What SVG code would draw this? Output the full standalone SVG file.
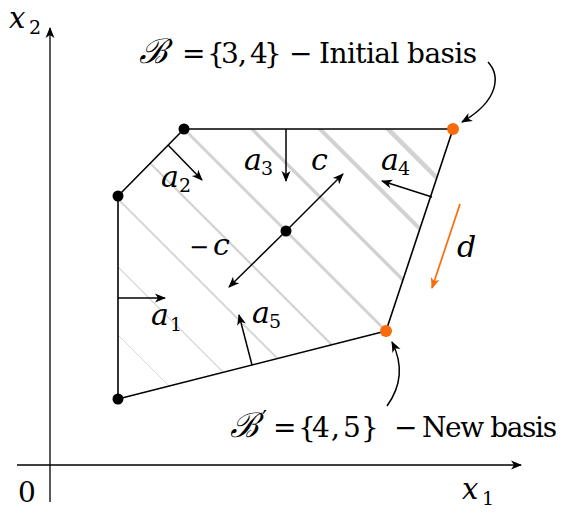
<svg xmlns="http://www.w3.org/2000/svg" width="565" height="517" viewBox="0 0 565 517">
<style>
text{font-family:'DejaVu Serif',serif;fill:#000}
.m{font-style:italic}
.s{font-style:normal}
.edge{fill:none;stroke:#000;stroke-width:1.6;stroke-linejoin:round}
.ax{fill:none;stroke:#000;stroke-width:1.3}
.arr{fill:none;stroke:#000;stroke-width:1.5;marker-end:url(#hk)}
.arro{fill:none;stroke:#f96a0c;stroke-width:1.7;marker-end:url(#ho)}
.h{stroke:#d2d2d2;fill:none}
</style>
<defs>
<marker id="hk" markerUnits="userSpaceOnUse" markerWidth="14" markerHeight="12" viewBox="-12 -6 14 12" refX="0" refY="0" orient="auto">
<path d="M1,0 L-10,-4.5 L-7,0 L-10,4.5 Z" fill="#000"/>
</marker>
<marker id="ho" markerUnits="userSpaceOnUse" markerWidth="14" markerHeight="12" viewBox="-12 -6 14 12" refX="0" refY="0" orient="auto">
<path d="M1,0 L-10,-4.5 L-7,0 L-10,4.5 Z" fill="#f96a0c"/>
</marker>
<clipPath id="poly"><polygon points="184,129 453,129 386,331 118,399 118,196"/></clipPath>
</defs>

<g id="hatch" clip-path="url(#poly)">
<line class="h" x1="0" y1="217" x2="600" y2="817" stroke-width="0.8"/>
<line class="h" x1="0" y1="149" x2="600" y2="749" stroke-width="1.2"/>
<line class="h" x1="0" y1="81" x2="600" y2="681" stroke-width="1.7"/>
<line class="h" x1="0" y1="13" x2="600" y2="613" stroke-width="2.2"/>
<line class="h" x1="0" y1="-55" x2="600" y2="545" stroke-width="2.8"/>
<line class="h" x1="0" y1="-123" x2="600" y2="477" stroke-width="3.4"/>
<line class="h" x1="0" y1="-191" x2="600" y2="409" stroke-width="4"/>
<line class="h" x1="0" y1="-259" x2="600" y2="341" stroke-width="4.6"/>
</g>

<g id="axes">
<line class="ax" x1="50" y1="502" x2="50" y2="28" marker-end="url(#hk)"/>
<line class="ax" x1="17" y1="465" x2="521" y2="465" marker-end="url(#hk)"/>
</g>

<g id="polygon">
<polygon class="edge" points="184,129 453,129 386,331 118,399 118,196"/>
</g>

<g id="connectors">
<line class="arr" x1="118" y1="298" x2="165" y2="298"/>
<line class="arr" x1="168" y1="145" x2="202" y2="180"/>
<line class="arr" x1="286" y1="129" x2="286" y2="181"/>
<line class="arr" x1="432" y1="197" x2="382" y2="181"/>
<line class="arr" x1="252" y1="365" x2="239" y2="315"/>
<line class="arr" x1="286" y1="231" x2="343" y2="174"/>
<line class="arr" x1="286" y1="231" x2="229" y2="287"/>
<line class="arro" x1="460" y1="204" x2="432" y2="288"/>
<path class="arr" d="M488,62 C500,75 500,100 462,122"/>
<path class="arr" d="M387,406 C400,388 404,366 392,342"/>
</g>

<g id="v1"><circle cx="184" cy="129" r="5.5" fill="#000"/></g>
<g id="v2"><circle cx="118" cy="196" r="5.5" fill="#000"/></g>
<g id="v3"><circle cx="118" cy="399" r="5.5" fill="#000"/></g>
<g id="center"><circle cx="286" cy="231" r="5.5" fill="#000"/></g>
<g id="v4"><circle cx="453" cy="129" r="6" fill="#f96a0c"/></g>
<g id="v5"><circle cx="386" cy="331" r="6" fill="#f96a0c"/></g>

<g id="labels">
<text class="m" x="9" y="28" font-size="29">x<tspan class="s" x="29" y="34" font-size="19">2</tspan></text>
<text x="18" y="502" font-size="28">0</text>
<text class="m" x="462" y="499" font-size="29">x<tspan class="s" x="482" y="505" font-size="19">1</tspan></text>
<text class="m" x="151" y="325" font-size="30">a<tspan class="s" x="170" y="331" font-size="19">1</tspan></text>
<text class="m" x="161" y="187" font-size="30">a<tspan class="s" x="179" y="192" font-size="19">2</tspan></text>
<text class="m" x="244" y="170" font-size="30">a<tspan class="s" x="261" y="175" font-size="19">3</tspan></text>
<text class="m" x="381" y="170" font-size="30">a<tspan class="s" x="398" y="175" font-size="19">4</tspan></text>
<text class="m" x="252" y="323" font-size="30">a<tspan class="s" x="269" y="328" font-size="19">5</tspan></text>
<text class="m" x="311" y="170" font-size="30">c</text>
<text x="189" y="255" font-size="24">−</text>
<text class="m" x="213" y="255" font-size="30">c</text>
<text class="m" x="457" y="257" font-size="30">d</text>
<text x="139" y="63" font-size="28"><tspan font-size="34" font-style="italic">ℬ</tspan><tspan x="182">=</tspan><tspan x="207 221 238 243 250 264">{3, 4}</tspan><tspan x="289">−</tspan><tspan x="319" textLength="158" lengthAdjust="spacing">Initial basis</tspan></text>
<text x="230" y="437" font-size="28"><tspan font-size="34" font-style="italic">ℬ</tspan><tspan x="262" y="426" font-size="22" font-family="DejaVu Sans, sans-serif">′</tspan><tspan x="273" y="437">=</tspan><tspan x="298 312 331 336 343 361">{4, 5}</tspan><tspan x="394">−</tspan><tspan x="422" textLength="135" lengthAdjust="spacing">New basis</tspan></text>
</g>
</svg>
